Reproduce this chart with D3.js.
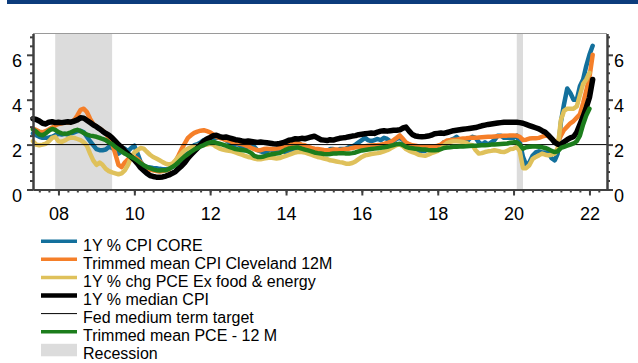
<!DOCTYPE html>
<html>
<head>
<meta charset="utf-8">
<script src="https://cdn.jsdelivr.net/npm/d3@7"></script>
<style>
  body { margin: 0; background: #fff; }
  svg { display: block; }
  text { font-family: "Liberation Sans", Arial, sans-serif; fill: #000; }
</style>
</head>
<body>
<svg id="chart" width="638" height="363"></svg>
<script>
// Monthly observations, first value = May 2007
const firstMonth = new Date(2007, 4, 1);

// 1Y % CPI core (May 2007 - Feb 2022)
const coreCPI = [
  2.5, 2.42, 2.35, 2.3, 2.3, 2.32, 2.35, 2.42,
  2.48, 2.45, 2.48, 2.45, 2.5, 2.55, 2.6, 2.62, 2.55, 2.35, 2.15, 1.98,
  1.8, 1.75, 1.75, 1.78, 1.9, 1.85, 1.75, 1.6, 1.7, 1.82, 1.7, 1.85,
  1.95, 1.6, 1.25, 1.05, 1.0, 0.98, 0.96, 0.95, 0.92, 0.9, 0.9, 0.92,
  1.0, 1.1, 1.2, 1.3, 1.5, 1.62, 1.8, 1.98, 2.02, 2.1, 2.2, 2.25,
  2.3, 2.25, 2.3, 2.32, 2.3, 2.2, 2.1, 1.95, 2.0, 2.0, 1.9, 1.9,
  1.9, 2.0, 1.9, 1.75, 1.7, 1.65, 1.7, 1.8, 1.72, 1.68, 1.7, 1.72,
  1.65, 1.65, 1.72, 1.8, 1.95, 1.92, 1.9, 1.75, 1.75, 1.8, 1.72, 1.65,
  1.65, 1.72, 1.8, 1.8, 1.72, 1.8, 1.8, 1.82, 1.9, 1.92, 2.0, 2.1,
  2.2, 2.3, 2.2, 2.15, 2.2, 2.25, 2.2, 2.3, 2.25, 2.15, 2.15, 2.25,
  2.3, 2.2, 2.0, 1.9, 1.75, 1.72, 1.72, 1.72, 1.72, 1.8, 1.72, 1.8,
  1.82, 1.85, 2.1, 2.1, 2.2, 2.25, 2.35, 2.2, 2.2, 2.1, 2.25, 2.35,
  2.3, 2.1, 2.0, 2.1, 2.0, 2.1, 2.2, 2.4, 2.4, 2.3, 2.3, 2.3,
  2.3, 2.4, 2.1, 1.45, 1.1, 1.2, 1.5, 1.65, 1.7, 1.65, 1.65, 1.65,
  1.4, 1.3, 1.6, 3.0, 3.8, 4.5, 4.3, 4.0, 4.0, 4.6, 4.9, 5.5,
  6.0, 6.4
];

// Trimmed mean CPI, Cleveland Fed, 12M (May 2007 - Feb 2022)
const trimmedCPI = [
  2.72, 2.65, 2.58, 2.55, 2.6, 2.68, 2.76, 2.85,
  2.92, 2.95, 2.98, 2.98, 3.0, 3.1, 3.3, 3.55, 3.6, 3.45, 3.15, 2.92,
  2.8, 2.72, 2.62, 2.5, 2.3, 2.05, 1.6, 1.1, 1.0, 1.2, 1.35, 1.45,
  1.45, 1.35, 1.22, 1.05, 0.95, 0.88, 0.85, 0.82, 0.8, 0.82, 0.85, 0.9,
  1.05, 1.25, 1.5, 1.8, 2.05, 2.3, 2.42, 2.52, 2.58, 2.62, 2.64, 2.6,
  2.55, 2.45, 2.35, 2.3, 2.25, 2.2, 2.18, 2.12, 2.08, 2.05, 2.02, 1.98,
  1.92, 1.85, 1.8, 1.75, 1.75, 1.8, 1.82, 1.8, 1.8, 1.82, 1.85, 1.9,
  1.97, 2.0, 2.04, 2.06, 2.05, 2.0, 1.97, 1.9, 1.85, 1.82, 1.8, 1.78,
  1.76, 1.75, 1.75, 1.78, 1.78, 1.76, 1.78, 1.8, 1.82, 1.85, 1.88, 1.9,
  1.92, 1.93, 1.95, 1.96, 1.97, 1.98, 2.0, 2.03, 2.07, 2.12, 2.2, 2.3,
  2.41, 2.25, 2.1, 2.02, 1.97, 1.95, 1.92, 1.9, 1.9, 1.9, 1.92, 1.92,
  1.95, 2.0, 2.1, 2.18, 2.2, 2.22, 2.22, 2.25, 2.27, 2.28, 2.3, 2.3,
  2.3, 2.32, 2.33, 2.34, 2.35, 2.35, 2.36, 2.37, 2.38, 2.4, 2.4, 2.41,
  2.41, 2.4, 2.35, 2.2, 2.22, 2.27, 2.28, 2.28, 2.3, 2.35, 2.4, 2.38,
  2.25, 2.15, 2.12, 2.4, 2.65, 2.8, 2.95, 3.05, 3.2, 3.35, 3.85, 4.4,
  5.0, 6.0
];

// 1Y % chg PCE ex food & energy (May 2007 - Jan 2022)
const corePCE = [
  2.15, 2.0, 1.97, 2.0, 2.04, 2.15, 2.3, 2.35,
  2.15, 2.12, 2.18, 2.27, 2.32, 2.3, 2.25, 2.2, 2.1, 1.95, 1.6, 1.3,
  1.1, 1.2, 1.1, 0.92, 0.82, 0.76, 0.72, 0.68, 0.72, 0.85, 1.1, 1.45,
  1.65, 1.75, 1.85, 1.82, 1.68, 1.55, 1.45, 1.38, 1.3, 1.22, 1.15, 1.12,
  1.15, 1.3, 1.45, 1.6, 1.75, 1.82, 1.88, 1.92, 1.95, 1.97, 1.98, 2.0,
  2.04, 2.0, 1.9, 1.82, 1.78, 1.75, 1.72, 1.7, 1.65, 1.6, 1.55, 1.5,
  1.45, 1.42, 1.38, 1.35, 1.35, 1.38, 1.4, 1.42, 1.4, 1.38, 1.4, 1.45,
  1.5, 1.55, 1.6, 1.65, 1.68, 1.67, 1.65, 1.6, 1.55, 1.5, 1.45, 1.42,
  1.38, 1.35, 1.3, 1.28, 1.25, 1.22, 1.2, 1.15, 1.15, 1.18, 1.25, 1.35,
  1.45, 1.52, 1.55, 1.58, 1.6, 1.62, 1.65, 1.7, 1.75, 1.82, 1.9, 1.98,
  2.0, 1.92, 1.8, 1.72, 1.67, 1.62, 1.55, 1.52, 1.5, 1.55, 1.62, 1.67,
  1.72, 1.82, 1.95, 2.08, 2.12, 2.15, 2.15, 2.14, 2.12, 2.08, 2.0, 1.97,
  1.75, 1.6, 1.62, 1.67, 1.7, 1.72, 1.75, 1.72, 1.68, 1.67, 1.72, 1.8,
  1.82, 1.9, 1.7, 0.95, 0.95, 1.08, 1.35, 1.45, 1.52, 1.6, 1.55, 1.52,
  1.55, 1.6, 1.85, 3.1, 3.5, 3.6, 3.6, 3.6, 3.7, 4.2, 4.7, 4.9,
  5.2
];

// 1Y % median CPI (May 2007 - Feb 2022)
const medianCPI = [
  3.15, 3.12, 3.05, 2.95, 2.92, 3.0, 3.02, 2.98,
  3.0, 2.98, 3.0, 3.02, 3.0, 3.05, 3.1, 3.2, 3.18, 3.08, 2.98, 2.88,
  2.8, 2.7, 2.6, 2.5, 2.42, 2.3, 2.15, 2.0, 1.88, 1.72, 1.58, 1.45,
  1.32, 1.15, 0.98, 0.85, 0.72, 0.62, 0.58, 0.55, 0.55, 0.56, 0.6, 0.65,
  0.72, 0.8, 0.92, 1.05, 1.2, 1.4, 1.55, 1.7, 1.85, 2.0, 2.15, 2.25,
  2.32, 2.4, 2.42, 2.36, 2.32, 2.34, 2.3, 2.26, 2.22, 2.2, 2.16, 2.14,
  2.16, 2.14, 2.12, 2.1, 2.12, 2.1, 2.08, 2.06, 2.04, 2.03, 2.05, 2.08,
  2.14, 2.2, 2.22, 2.26, 2.25, 2.28, 2.26, 2.3, 2.34, 2.37, 2.3, 2.22,
  2.2, 2.18, 2.22, 2.2, 2.24, 2.28, 2.3, 2.32, 2.35, 2.38, 2.4, 2.44,
  2.46, 2.48, 2.5, 2.52, 2.5, 2.56, 2.6, 2.62, 2.6, 2.62, 2.64, 2.64,
  2.66, 2.74, 2.78, 2.6, 2.45, 2.38, 2.36, 2.35, 2.36, 2.38, 2.42, 2.48,
  2.5, 2.52, 2.5, 2.54, 2.58, 2.62, 2.64, 2.66, 2.68, 2.7, 2.72, 2.74,
  2.76, 2.8, 2.84, 2.87, 2.9, 2.92, 2.94, 2.96, 2.98, 3.0, 3.0, 3.0,
  3.0, 3.0, 2.98, 2.95, 2.9, 2.85, 2.8, 2.75, 2.7, 2.62, 2.55, 2.42,
  2.27, 2.1, 2.02, 2.0, 2.12, 2.22, 2.3, 2.35, 2.55, 2.9, 3.25, 3.65,
  4.1, 4.9
];

// Trimmed mean PCE, 12M (May 2007 - Jan 2022)
const trimmedPCE = [
  2.68, 2.58, 2.45, 2.42, 2.5, 2.62, 2.7, 2.66,
  2.56, 2.5, 2.48, 2.5, 2.55, 2.62, 2.66, 2.6, 2.52, 2.45, 2.4, 2.38,
  2.35, 2.3, 2.25, 2.2, 2.1, 2.02, 1.9, 1.8, 1.7, 1.6, 1.52, 1.45,
  1.38, 1.28, 1.18, 1.08, 1.0, 0.95, 0.9, 0.86, 0.85, 0.86, 0.86, 0.92,
  1.0, 1.1, 1.22, 1.35, 1.48, 1.58, 1.68, 1.78, 1.85, 1.92, 1.98, 2.05,
  2.1, 2.12, 2.08, 2.04, 2.0, 1.95, 1.9, 1.85, 1.8, 1.78, 1.76, 1.74,
  1.7, 1.62, 1.5, 1.45, 1.45, 1.47, 1.52, 1.56, 1.58, 1.6, 1.62, 1.7,
  1.78, 1.83, 1.85, 1.87, 1.87, 1.82, 1.78, 1.74, 1.7, 1.65, 1.62, 1.6,
  1.58, 1.57, 1.58, 1.6, 1.6, 1.62, 1.62, 1.6, 1.6, 1.62, 1.65, 1.7,
  1.74, 1.76, 1.78, 1.8, 1.82, 1.84, 1.86, 1.88, 1.9, 1.94, 1.98, 2.02,
  2.04, 1.98, 1.9, 1.86, 1.84, 1.82, 1.8, 1.78, 1.78, 1.76, 1.75, 1.75,
  1.76, 1.8, 1.85, 1.87, 1.88, 1.9, 1.9, 1.92, 1.92, 1.93, 1.94, 1.95,
  1.95, 1.96, 1.97, 1.97, 1.98, 2.0, 2.01, 2.02, 2.03, 2.04, 2.05, 2.08,
  2.1, 2.1, 2.0, 1.82, 1.88, 1.9, 1.92, 1.92, 1.9, 1.88, 1.85, 1.8,
  1.72, 1.67, 1.7, 1.85, 1.9, 1.95, 2.0, 2.05, 2.15, 2.4, 2.9, 3.3,
  3.6
];

const fedTarget = 2;

// Recession periods (start month, end month)
const recessions = [
  [new Date(2007, 11, 1), new Date(2009, 5, 1)],
  [new Date(2020, 1, 1), new Date(2020, 3, 1)]
];

const yMajorTicks = [0, 2, 4, 6];
const legendLabels = [
  "1Y % CPI CORE",
  "Trimmed mean CPI Cleveland 12M",
  "1Y % chg PCE Ex food & energy",
  "1Y % median CPI",
  "Fed medium term target",
  "Trimmed mean PCE - 12 M",
  "Recession"
];

// ---------------------------------------------------------------
const svg = d3.select("#chart");
const plot = { left: 33, right: 607, top: 33.5, bottom: 189.5 };
const axisColor = "#404040";

const x = d3.scaleTime()
  .domain([new Date(2007, 4, 1), new Date(2022, 5, 19)])
  .range([plot.left, plot.right]);
const y = d3.scaleLinear()
  .domain([0, 6.95])
  .range([plot.bottom, plot.top]);

// header band
svg.append("rect")
  .attr("x", 7).attr("y", 0).attr("width", 631).attr("height", 4)
  .attr("fill", "#0c3c7c");

// recession shading
svg.append("g").selectAll("rect")
  .data(recessions)
  .join("rect")
  .attr("x", d => x(d[0]))
  .attr("width", d => x(d[1]) - x(d[0]))
  .attr("y", plot.top)
  .attr("height", plot.bottom - plot.top)
  .attr("fill", "#dcdcdc");

// top frame edge
svg.append("line")
  .attr("x1", plot.left).attr("x2", plot.right)
  .attr("y1", plot.top).attr("y2", plot.top)
  .attr("stroke", "#9a9a9a").attr("stroke-width", 1);

const monthOf = i => d3.timeMonth.offset(firstMonth, i);
const line = d3.line()
  .x((d, i) => x(monthOf(i)))
  .y(d => y(d))
  .curve(d3.curveLinear);

const series = [
  { values: coreCPI,    color: "#13709c", width: 4.5 },
  { values: trimmedCPI, color: "#f57f29", width: 4.5 },
  { values: corePCE,    color: "#dfc15b", width: 4.5 },
  { values: medianCPI,  color: "#000000", width: 5.5 },
  { target: true,       color: "#000000", width: 1 },
  { values: trimmedPCE, color: "#1c7d1c", width: 4.5 }
];

const gLines = svg.append("g");
series.forEach(s => {
  if (s.target) {
    gLines.append("line")
      .attr("x1", plot.left).attr("x2", plot.right)
      .attr("y1", y(fedTarget)).attr("y2", y(fedTarget))
      .attr("stroke", s.color).attr("stroke-width", s.width);
  } else {
    gLines.append("path")
      .attr("d", line(s.values))
      .attr("fill", "none")
      .attr("stroke", s.color)
      .attr("stroke-width", s.width)
      .attr("stroke-linejoin", "round")
      .attr("stroke-linecap", "round");
  }
});

// axes
const yMinorTicks = d3.range(0, 35).map(i => i * 0.4).filter((v, i) => i % 5 !== 0 && v < 6.95);

function styleAxis(g) {
  g.select(".domain").attr("stroke", axisColor).attr("stroke-width", 2);
  g.selectAll(".tick line").attr("stroke", axisColor).attr("stroke-width", 2);
  g.selectAll("text").attr("font-size", 18).attr("font-family", "Liberation Sans, Arial, sans-serif").attr("fill", "#000");
}

// left
svg.append("g").attr("transform", `translate(${plot.left},0)`)
  .call(d3.axisLeft(y).tickValues(yMinorTicks).tickSize(3).tickFormat("").tickSizeOuter(0))
  .call(styleAxis);
svg.append("g").attr("transform", `translate(${plot.left},0)`)
  .call(d3.axisLeft(y).tickValues(yMajorTicks).tickSize(6).tickPadding(5).tickSizeOuter(0).tickFormat(d3.format("d")))
  .call(styleAxis)
  .call(g => g.selectAll("text").attr("y", 6));

// right
svg.append("g").attr("transform", `translate(${plot.right},0)`)
  .call(d3.axisRight(y).tickValues(yMinorTicks).tickSize(3).tickFormat("").tickSizeOuter(0))
  .call(styleAxis);
svg.append("g").attr("transform", `translate(${plot.right},0)`)
  .call(d3.axisRight(y).tickValues(yMajorTicks).tickSize(6).tickPadding(1).tickSizeOuter(0).tickFormat(d3.format("d")))
  .call(styleAxis)
  .call(g => g.selectAll("text").attr("y", 6));

// bottom
svg.append("g").attr("transform", `translate(0,${plot.bottom})`)
  .call(d3.axisBottom(x).ticks(d3.timeMonth.every(3)).tickSize(3).tickFormat("").tickSizeOuter(0))
  .call(styleAxis);
svg.append("g").attr("transform", `translate(0,${plot.bottom})`)
  .call(d3.axisBottom(x).ticks(d3.timeYear.every(2)).tickSize(6).tickPadding(12).tickSizeOuter(0).tickFormat(d3.timeFormat("%y")))
  .call(styleAxis);

// legend
const legendItems = [
  { color: "#13709c", width: 3.5 },
  { color: "#f57f29", width: 3.5 },
  { color: "#dfc15b", width: 3.5 },
  { color: "#000000", width: 4.5 },
  { color: "#000000", width: 1 },
  { color: "#1c7d1c", width: 3.5 },
  { color: "#dcdcdc", rect: true }
].map((d, i) => ({ ...d, label: legendLabels[i] }));

const legend = svg.append("g");
const rowY = i => 241.2 + i * 18.1;
legendItems.forEach((d, i) => {
  const cy = rowY(i);
  if (d.rect) {
    legend.append("rect")
      .attr("x", 41).attr("y", cy - 6).attr("width", 36).attr("height", 12.5)
      .attr("fill", d.color);
  } else {
    legend.append("line")
      .attr("x1", 41).attr("x2", 77).attr("y1", cy).attr("y2", cy)
      .attr("stroke", d.color).attr("stroke-width", d.width);
  }
  legend.append("text")
    .attr("x", 83).attr("y", cy + 9.5)
    .attr("font-size", 16)
    .text(d.label);
});
</script>
</body>
</html>
